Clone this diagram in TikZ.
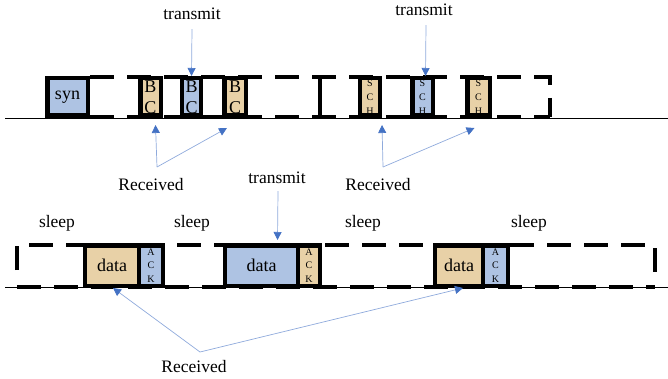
\documentclass[tikz,border=0pt]{standalone}
\usepackage{fontspec}
\setmainfont{Liberation Serif}
\usetikzlibrary{arrows.meta}
\definecolor{sandfill}{HTML}{E8D1A7}
\definecolor{bluefill}{HTML}{AEC3E3}
\definecolor{arrowline}{HTML}{8FAADC}
\definecolor{arrowtip}{HTML}{4472C4}

\begin{document}
\begin{tikzpicture}[x=1pt, y=-1pt]
    % Styles for slots, frames and arrows
    \tikzstyle{slot} = [rectangle, draw=black, line width=4.5pt, inner sep=0pt, align=center, minimum height=37.5pt]
    \tikzstyle{bigtext} = [font=\fontsize{18}{21}\selectfont]
    \tikzstyle{smalltext} = [font=\fontsize{10}{14}\selectfont]
    \tikzstyle{frame} = [line width=4pt, dash pattern=on 24pt off 13pt]
    \tikzstyle{arrow} = [arrowline, line width=0.7pt, -{Triangle[width=8pt,length=8pt,color=arrowtip]}]
    \tikzstyle{txt} = [font=\fontsize{17.5}{20}\selectfont, inner sep=0pt]

    \useasboundingbox (0,0) rectangle (668,379);

  % Time lines
    \draw[line width=0.8pt] (5,118) -- (668,118);
    \draw[line width=0.8pt] (5,287) -- (668,287);

  % Upper frame
    \draw[frame] (90,77) -- (550,77) -- (550,117);
    \draw[frame] (90,117) -- (550,117);
    \draw[line width=4pt] (320,77) -- (320,117);

  % Lower frame
    \draw[frame] (17,270) -- (17,245) -- (655,245) -- (655,272);
    \draw[frame] (17,287) -- (655,287);

  % Upper slots
    \node[slot, bigtext, fill=bluefill, minimum width=40.5pt] (syn) at (67.5,97) {syn};
    \node[slot, bigtext, fill=sandfill, minimum width=20.5pt] (bcA) at (150.5,97) {B\\C};
    \node[slot, bigtext, fill=bluefill, minimum width=19pt] (bcB) at (191.5,97) {B\\C};
    \node[slot, bigtext, fill=sandfill, minimum width=21.5pt] (bcC) at (235,97) {B\\C};
    \node[slot, smalltext, fill=sandfill, minimum width=20pt] (schA) at (370,97) {S\\C\\H};
    \node[slot, smalltext, fill=bluefill, minimum width=20.5pt] (schB) at (422.5,97) {S\\C\\H};
    \node[slot, smalltext, fill=sandfill, minimum width=22.5pt] (schC) at (478.5,97) {S\\C\\H};

  % Lower slots
    \node[slot, bigtext, fill=sandfill, minimum width=54pt, minimum height=40.5pt] (dataA) at (112,265.5) {data};
    \node[slot, smalltext, fill=bluefill, minimum width=24pt, minimum height=40.5pt, font=\fontsize{10}{13.5}\selectfont] (ackA) at (151,265.5) {A\\C\\K};
    \node[slot, bigtext, fill=bluefill, minimum width=73pt, minimum height=40.5pt] (dataB) at (261.5,265.5) {data};
    \node[slot, smalltext, fill=sandfill, minimum width=22pt, minimum height=40.5pt, font=\fontsize{10}{13.5}\selectfont] (ackB) at (309,265.5) {A\\C\\K};
    \node[slot, bigtext, fill=sandfill, minimum width=48pt, minimum height=40.5pt] (dataC) at (459,265.5) {data};
    \node[slot, smalltext, fill=bluefill, minimum width=25pt, minimum height=40.5pt, font=\fontsize{10}{13.5}\selectfont] (ackC) at (495.5,265.5) {A\\C\\K};

  % Labels
    \node[txt] (txA) at (192,14) {transmit};
    \node[txt] (txB) at (424,10) {transmit};
    \node[txt] (txC) at (277,178) {transmit};
    \node[txt] (rxA) at (151,185) {Received};
    \node[txt] (rxB) at (378,185) {Received};
    \node[txt] (rxC) at (194,367) {Received};
    \node[txt] (sleepA) at (57,223) {sleep};
    \node[txt] (sleepB) at (192,223) {sleep};
    \node[txt] (sleepC) at (363,223) {sleep};
    \node[txt] (sleepD) at (529,223) {sleep};

  % Transmit arrows
    \draw[arrow] ([yshift=-9pt]txA.south) -- (bcB.north);
    \draw[arrow] ([xshift=2pt,yshift=-9pt]txB.south) -- ([xshift=3pt]schB.north);
    \draw[arrow] ([xshift=1pt,yshift=-7pt]txC.south) -- ([xshift=16pt,yshift=3pt]dataB.north);

  % Received arrows
    \coordinate (forkA) at (157,167);
    \coordinate (forkB) at (383,167);
    \coordinate (forkC) at (200,352);
    \draw[arrow] (forkA) -- ([xshift=5pt,yshift=-7pt]bcA.south);
    \draw[arrow] (forkA) -- ([xshift=-8pt,yshift=-10pt]bcC.south);
    \draw[arrow] (forkB) -- ([xshift=12pt,yshift=-7pt]schA.south);
    \draw[arrow] (forkB) -- ([xshift=-4pt,yshift=-10pt]schC.south);
    \draw[arrow] (forkC) -- ([xshift=1pt]dataA.south);
    \draw[arrow] (forkC) -- ([xshift=4pt]dataC.south);

\end{tikzpicture}
\end{document}
